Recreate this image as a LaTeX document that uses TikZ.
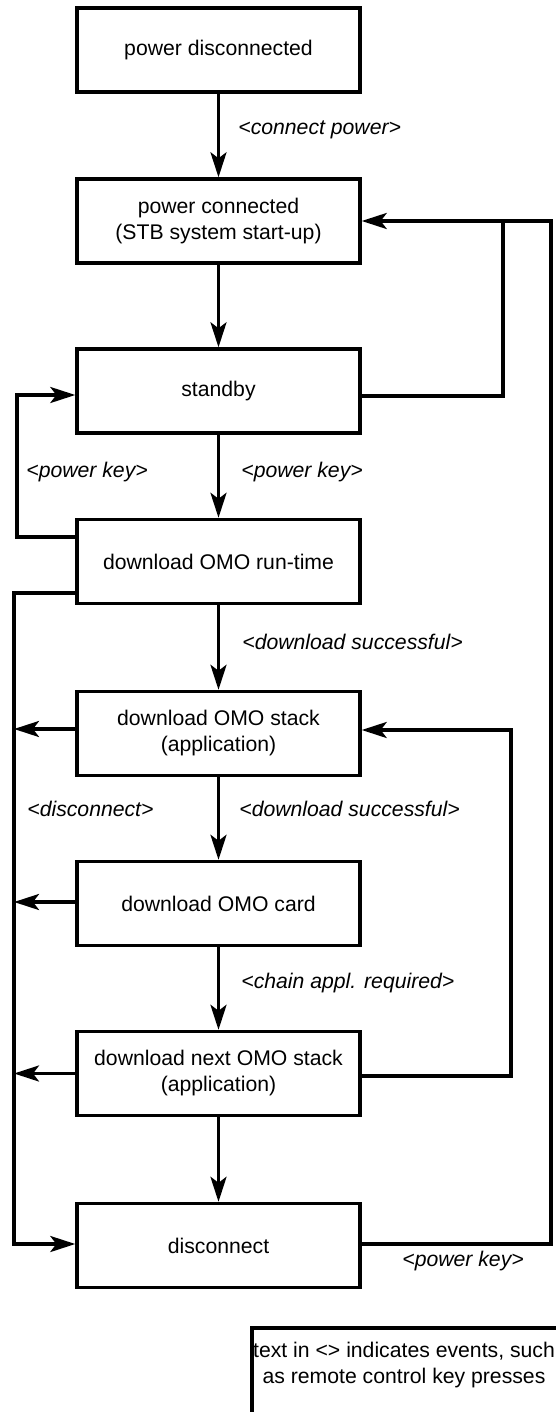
\documentclass[tikz,border=0pt]{standalone}
\usepackage{fontspec}
\setmainfont{Liberation Sans}
\usetikzlibrary{arrows.meta,calc}

\tikzset{
  state/.style={draw, line width=1.7pt, minimum width=141.5pt, minimum height=42pt,
    inner sep=2pt, align=center, font=\fontsize{10.6}{13}\selectfont},
  event/.style={anchor=west, inner sep=0pt, font=\fontsize{10.6}{13}\selectfont\itshape},
  link/.style={line width=1.7pt},
  arr/.style={link, -{Stealth[length=12.5pt, width=8pt, inset=3pt]}},
}

\begin{document}
\begin{tikzpicture}[x=0.5pt, y=-0.5pt]
\useasboundingbox (0,0) rectangle (556,1412);

% states
\node[state] (b1) at (218.5,50)     {power disconnected};
\node[state] (b2) at (218.5,221)    {power connected\\(STB system start-up)};
\node[state] (b3) at (218.5,391)    {standby};
\node[state] (b4) at (218.5,561.5)  {download OMO run-time};
\node[state] (b5) at (218.5,733.5)  {download OMO stack\\(application)};
\node[state] (b6) at (218.5,903.5)  {download OMO card};
\node[state] (b7) at (218.5,1073.5) {download next OMO stack\\(application)};
\node[state] (b8) at (218.5,1245.5) {disconnect};

% routing columns
\coordinate (outerR) at (551,0);
\coordinate (innerR) at (503,0);
\coordinate (chainR) at (511,0);
\coordinate (keyL)   at (17,0);
\coordinate (discL)  at (14,0);

% main sequence
\draw[arr] (b1) -- (b2);
\draw[arr] (b2) -- (b3);
\draw[arr] (b3) -- (b4);
\draw[arr] (b4) -- (b5);
\draw[arr] (b5) -- (b6);
\draw[arr] (b6) -- (b7);
\draw[arr] (b7) -- (b8);

% power key from disconnect back to power connected
\draw[arr] ([yshift=0.75pt]b8.east) -- ([yshift=0.75pt]b8.east -| outerR)
  -- (outerR |- b2.east) -- (b2.east);
% standby joins the same return line
\draw[link] ([yshift=-2.5pt]b3.east) -- ([yshift=-2.5pt]b3.east -| innerR)
  -- ([yshift=1pt]innerR |- b2.east);

% power key from run-time back to standby
\draw[arr] ([yshift=12.25pt]b4.west) -- ([yshift=12.25pt]b4.west -| keyL)
  -- ([yshift=-2pt]keyL |- b3.west) -- ([yshift=-2pt]b3.west);

% disconnect bus on the left
\draw[arr] ([yshift=-15.75pt]b4.west) -- ([yshift=-15.75pt]b4.west -| discL)
  -- ([yshift=0.75pt]discL |- b8.west) -- ([yshift=0.75pt]b8.west);
\draw[arr] ([yshift=2.25pt]b5.west) -- ([yshift=2.25pt]b5.west -| discL);
\draw[arr] ([yshift=0.75pt]b6.west) -- ([yshift=0.75pt]b6.west -| discL);
\draw[arr] (b7.west) -- (b7.west -| discL);

% chained application loop
\draw[arr] ([yshift=-1.25pt]b7.east) -- ([yshift=-1.25pt]b7.east -| chainR)
  -- ([yshift=1.75pt]chainR |- b5.east) -- ([yshift=1.75pt]b5.east);

% event labels
\node[event] (e1) at (238,130)  {<connect power>};
\node[event] (e2) at (26,472)   {<power key>};
\node[event] (e3) at (241,472)  {<power key>};
\node[event] (e4) at (242,642)  {<download successful>};
\node[event] (e5) at (27,809)   {<disconnect>};
\node[event] (e6) at (239,809)  {<download successful>};
\node[event] (e7) at (241,983)  {<chain appl. required>};
\node[event] (e8) at (402,1261) {<power key>};

% legend
\begin{scope}
  \clip (0,0) rectangle (556,1412);
  \draw[line width=1.7pt] (252,1328) rectangle (600,1460);
\end{scope}
\node[align=center, inner sep=0pt, font=\fontsize{10.6}{13}\selectfont] (legend) at (404,1365)
  {text in <> indicates events, such\\as remote control key presses};
\end{tikzpicture}
\end{document}
